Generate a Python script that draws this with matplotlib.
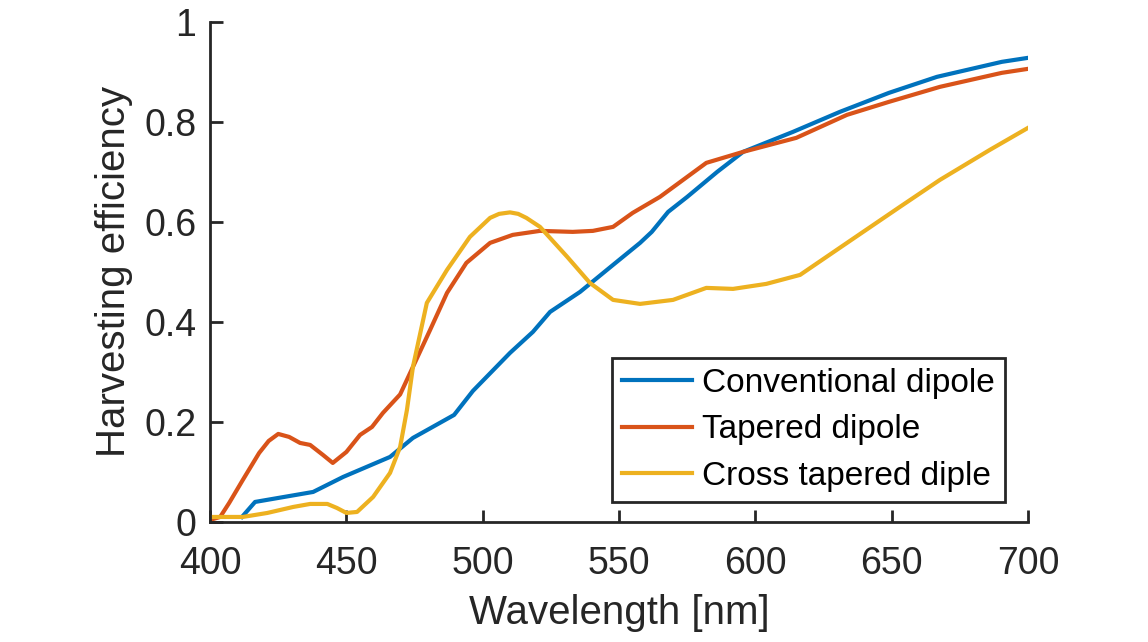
"""Harvesting efficiency vs wavelength for three nano-antenna designs."""

import matplotlib.pyplot as plt

plt.rcParams['font.family'] = ['Liberation Sans', 'DejaVu Sans']

# Conventional dipole
wl_conv = [411.7, 416.5, 437.8, 448.8, 466, 474.4, 477.7, 489.5, 496.4, 510, 518.4,
           524.7, 535.7, 547.8, 557.7, 562, 568, 575, 586, 595.5, 613.8, 631,
           649, 666.6, 690.4, 700]
eff_conv = [0.01, 0.04, 0.06, 0.09, 0.13, 0.168, 0.178, 0.214, 0.262, 0.338, 0.38,
            0.42, 0.46, 0.514, 0.558, 0.58, 0.62, 0.65, 0.70, 0.74, 0.78, 0.82,
            0.858, 0.89, 0.92, 0.928]

# Tapered dipole
wl_tap = [400, 403.7, 407, 412, 418, 421.5, 425, 429, 433, 436.7, 441.4, 445, 450,
          455, 459.4, 463.4, 469.7, 474.4, 480.7, 486.9, 494, 502.7, 511, 521, 533,
          540.4, 547.8, 555, 565, 582, 595.5, 615, 633.6, 649, 667.7, 690.4, 700]
eff_tap = [0.004, 0.01, 0.038, 0.084, 0.138, 0.162, 0.176, 0.17, 0.158, 0.154,
           0.134, 0.118, 0.14, 0.174, 0.19, 0.218, 0.255, 0.31, 0.384, 0.458,
           0.518, 0.558, 0.574, 0.582, 0.58, 0.582, 0.59, 0.618, 0.65, 0.718,
           0.74, 0.768, 0.814, 0.84, 0.87, 0.898, 0.906]

# Cross tapered dipole
wl_cross = [400, 412, 421, 430.5, 436.7, 443, 446.5, 450, 453.9, 459.8, 466, 469.7,
            472.2, 474.4, 479.5, 486.9, 495.3, 502.7, 506, 510, 513, 516, 521, 531,
            539.3, 547.8, 557.7, 569.8, 582, 591.8, 604, 616.4, 633.6, 653, 667.7,
            686, 700]
eff_cross = [0.01, 0.01, 0.018, 0.03, 0.036, 0.036, 0.028, 0.018, 0.02, 0.05,
             0.098, 0.15, 0.224, 0.31, 0.438, 0.504, 0.57, 0.608, 0.616, 0.619,
             0.616, 0.608, 0.59, 0.53, 0.478, 0.444, 0.436, 0.444, 0.468, 0.466,
             0.476, 0.494, 0.558, 0.63, 0.684, 0.744, 0.788]

labels = ['Conventional dipole', 'Tapered dipole', 'Cross tapered diple']
colors = ['#0072BD', '#D95319', '#EDB120']
axis_color = '#262626'

fig = plt.figure(figsize=(11.48, 6.42), dpi=100, facecolor='white')
ax = fig.add_axes([0.183, 0.187, 0.7125, 0.779])

ax.plot(wl_conv, eff_conv, color=colors[0], lw=3, label=labels[0])
ax.plot(wl_tap, eff_tap, color=colors[1], lw=3, label=labels[1])
ax.plot(wl_cross, eff_cross, color=colors[2], lw=3, label=labels[2])

ax.set_xlim(400, 700)
ax.set_ylim(0, 1)
ax.set_xticks([400, 450, 500, 550, 600, 650, 700])
ax.set_yticks([0, 0.2, 0.4, 0.6, 0.8, 1])
ax.set_yticklabels(['0', '0.2', '0.4', '0.6', '0.8', '1'])

for side in ['top', 'right']:
    ax.spines[side].set_visible(False)
for side in ['left', 'bottom']:
    ax.spines[side].set_color(axis_color)
    ax.spines[side].set_linewidth(2)

ax.tick_params(direction='in', length=9, width=2, colors=axis_color, labelsize=27)
ax.tick_params(axis='x', pad=17)
ax.tick_params(axis='y', pad=10)

ax.set_xlabel('Wavelength [nm]', fontsize=29, color=axis_color, labelpad=9)
ax.set_ylabel('Harvesting efficiency', fontsize=29, color=axis_color, labelpad=8)

leg = ax.legend(loc='lower right', bbox_to_anchor=(0.972, 0.04), fontsize=24,
                frameon=True, fancybox=False, handlelength=2.1, handletextpad=0.3,
                borderpad=0.3, labelspacing=0.47, borderaxespad=0)
leg.get_frame().set_edgecolor(axis_color)
leg.get_frame().set_linewidth(2)
leg.get_frame().set_alpha(1)
for t in leg.get_texts():
    t.set_color('black')

fig.savefig('out.png', dpi=100, facecolor='white')
plt.close(fig)
